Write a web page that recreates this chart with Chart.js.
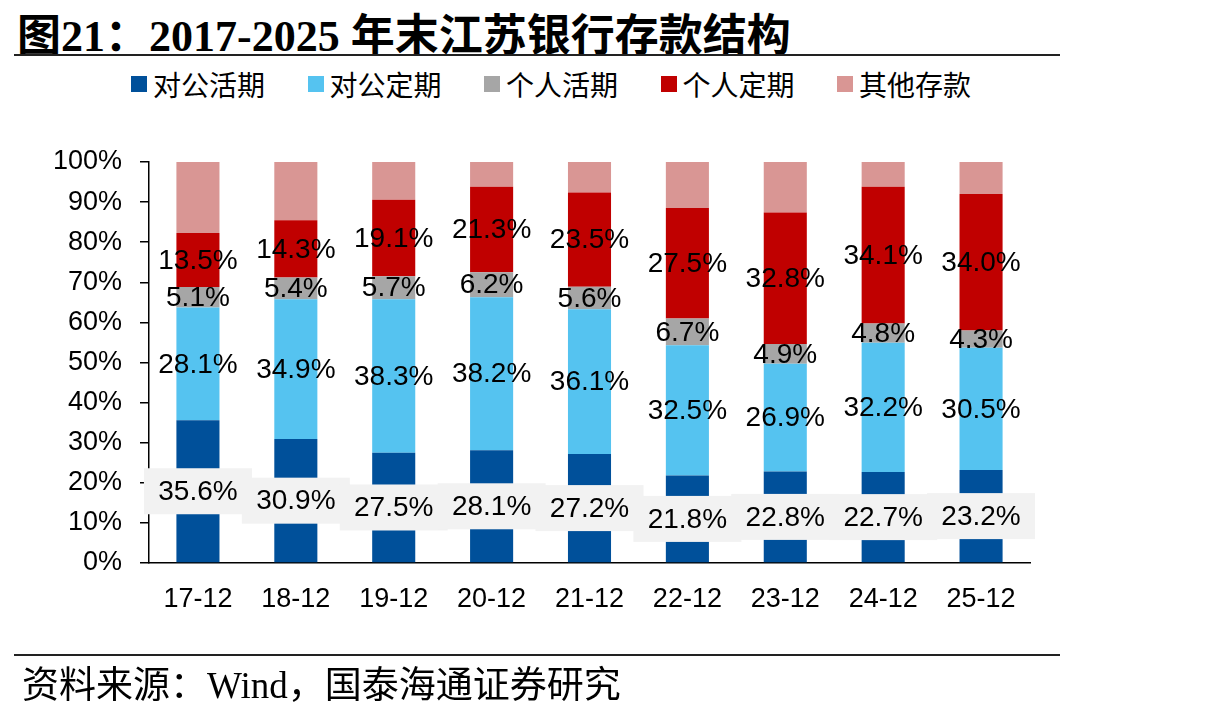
<!DOCTYPE html>
<html>
<head>
<meta charset="utf-8">
<script src="https://cdn.jsdelivr.net/npm/chart.js@4"></script>
<style>
  body { margin: 0; background: #fff; width: 1215px; height: 713px; position: relative; overflow: hidden; }
  #title { position: absolute; left: 17px; top: 0px; font: bold 44px "Liberation Serif", "Noto Sans CJK SC", serif; color: #000; white-space: nowrap; }
  .rule { position: absolute; left: 14px; width: 1046px; height: 2px; background: #222; }
  #legend { position: absolute; top: 64px; left: 0; }
  .item { position: absolute; display: flex; align-items: center; white-space: nowrap; font: 28px "Noto Sans CJK SC", sans-serif; color: #000; }
  .item span.box { width: 16px; height: 16px; margin-right: 6px; display: inline-block; }
  #source { position: absolute; left: 22px; top: 655px; font: 37px "Liberation Serif", "Noto Sans CJK SC", serif; color: #000; white-space: nowrap; }
  canvas { position: absolute; left: 0; top: 0; }
</style>
</head>
<body>
<div id="title">图21：2017-2025 年末江苏银行存款结构</div>
<div class="rule" style="top:54px"></div>
<div id="legend"></div>
<canvas id="chart" width="1215" height="713"></canvas>
<div class="rule" style="top:654px"></div>
<div id="source">资料来源：Wind，国泰海通证券研究</div>

<script>
const categories = ["17-12", "18-12", "19-12", "20-12", "21-12", "22-12", "23-12", "24-12", "25-12"];
const seriesNames = ["对公活期", "对公定期", "个人活期", "个人定期", "其他存款"];
const seriesColors = ["#00509a", "#55c3f0", "#a6a6a6", "#c00000", "#d99694"];

const corpDemand = [35.6, 30.9, 27.5, 28.1, 27.2, 21.8, 22.8, 22.7, 23.2];
const corpTime = [28.1, 34.9, 38.3, 38.2, 36.1, 32.5, 26.9, 32.2, 30.5];
const personalDemand = [5.1, 5.4, 5.7, 6.2, 5.6, 6.7, 4.9, 4.8, 4.3];
const personalTime = [13.5, 14.3, 19.1, 21.3, 23.5, 27.5, 32.8, 34.1, 34.0];
const otherDeposits = [17.7, 14.5, 9.4, 6.2, 7.6, 11.5, 12.6, 6.2, 8.0];

const yTicks = [0, 10, 20, 30, 40, 50, 60, 70, 80, 90, 100];

const allSeries = [corpDemand, corpTime, personalDemand, personalTime, otherDeposits];

// legend in html
const legend = document.getElementById("legend");
seriesNames.forEach((name, i) => {
  const el = document.createElement("div");
  el.className = "item";
  el.style.left = (131 + i * 176.5) + "px";
  el.innerHTML = `<span class="box" style="background:${seriesColors[i]}"></span>${name}`;
  legend.appendChild(el);
});

const labelFont = '28px "Liberation Sans", Arial, sans-serif';

const barLabels = {
  id: "barLabels",
  afterDatasetsDraw(chart) {
    const ctx = chart.ctx;
    ctx.save();
    // grey boxes behind the first series labels
    const first = chart.getDatasetMeta(0);
    first.data.forEach(bar => {
      const cy = (bar.y + bar.base) / 2;
      ctx.fillStyle = "#f2f2f2";
      ctx.fillRect(bar.x - 54, cy - 23, 108, 46);
    });
    ctx.font = labelFont;
    ctx.fillStyle = "#000";
    ctx.textAlign = "center";
    ctx.textBaseline = "middle";
    for (let d = 0; d < 4; d++) {
      const meta = chart.getDatasetMeta(d);
      meta.data.forEach((bar, i) => {
        const cy = (bar.y + bar.base) / 2;
        ctx.fillText(allSeries[d][i].toFixed(1) + "%", bar.x, cy + 1);
      });
    }
    ctx.restore();
  }
};

const ctx = document.getElementById("chart").getContext("2d");
new Chart(ctx, {
  type: "bar",
  data: {
    labels: categories,
    datasets: allSeries.map((s, i) => ({
      label: seriesNames[i],
      data: s,
      backgroundColor: seriesColors[i],
      borderWidth: 0,
      barPercentage: 0.44,
      categoryPercentage: 1
    }))
  },
  options: {
    responsive: false,
    animation: false,
    devicePixelRatio: 1,
    layout: { padding: { left: 0, right: 185, top: 162, bottom: 0 } },
    plugins: { legend: { display: false }, tooltip: { enabled: false } },
    scales: {
      x: {
        stacked: true,
        grid: { display: false, drawTicks: false },
        border: { display: true, color: "#000", width: 1.5 },
        ticks: { color: "#000", font: { family: '"Liberation Sans", Arial', size: 27 }, padding: 20 },
        afterFit: s => { s.height = 150; }
      },
      y: {
        stacked: true,
        min: 0,
        max: 100,
        afterBuildTicks: s => { s.ticks = yTicks.map(v => ({ value: v })); },
        grid: { drawOnChartArea: false, drawTicks: true, tickLength: 9, color: "#000", lineWidth: 1.5 },
        border: { display: true, color: "#000", width: 1.5 },
        ticks: { color: "#000", font: { family: '"Liberation Sans", Arial', size: 27 }, padding: 18, callback: v => v + "%" },
        afterFit: s => { s.width = 149; }
      }
    }
  },
  plugins: [barLabels]
});
</script>
</body>
</html>
